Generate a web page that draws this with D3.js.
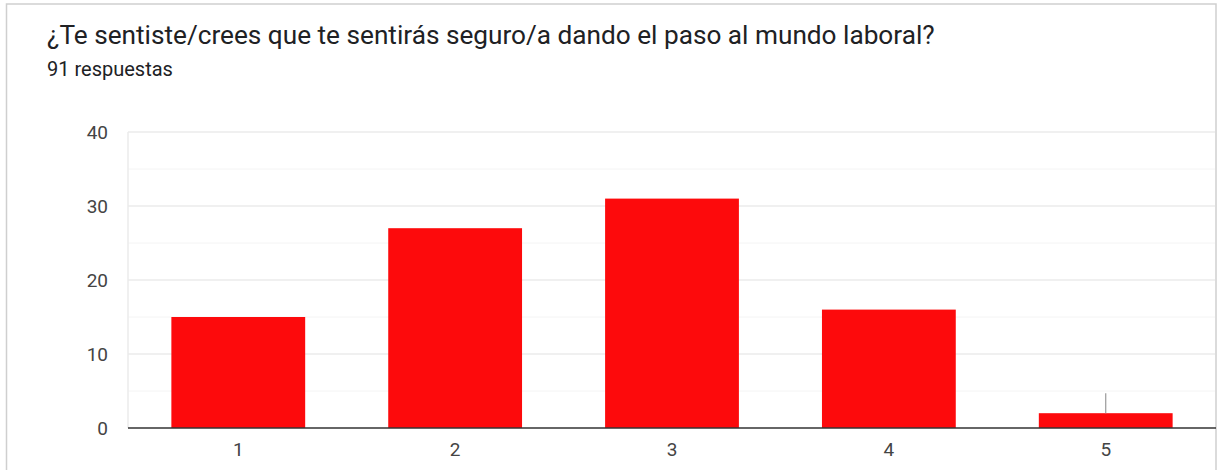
<!DOCTYPE html>
<html>
<head>
<meta charset="utf-8">
<script src="https://cdn.jsdelivr.net/npm/d3@7"></script>
<style>
  html, body { margin: 0; padding: 0; background: #fff; }
  svg { display: block; font-family: Roboto, Arial, sans-serif; }
</style>
</head>
<body>
<svg id="chart" width="1217" height="470"></svg>
<script>
// Survey answers: rating 1–5 and number of responses
const categories = ["1", "2", "3", "4", "5"];
const counts = [15, 27, 31, 16, 2];
const yTicks = [0, 10, 20, 30, 40];
const yMinorTicks = [5, 15, 25, 35];
const title = "¿Te sentiste/crees que te sentirás seguro/a dando el paso al mundo laboral?";
const subtitle = "91 respuestas";

const svg = d3.select("#chart");
const W = 1217, H = 470;

// card frame
svg.append("rect")
  .attr("x", 6.5).attr("y", 4).attr("width", W - 7.5).attr("height", H + 10)
  .attr("fill", "#fff").attr("stroke", "#cfcfcf").attr("stroke-width", 1.5);

svg.append("text")
  .attr("x", 47).attr("y", 44)
  .attr("font-size", 26.2).attr("fill", "#202124")
  .text(title);

svg.append("text")
  .attr("x", 47).attr("y", 76)
  .attr("font-size", 20).attr("fill", "#202124")
  .text(subtitle);

const plot = { left: 128, right: 1216, top: 132, bottom: 428 };

const x = d3.scaleBand()
  .domain(categories)
  .range([plot.left, plot.right])
  .paddingInner(0.383)
  .paddingOuter(0.2);

const y = d3.scaleLinear()
  .domain([0, 40])
  .range([plot.bottom, plot.top]);

// minor gridlines
svg.append("g")
  .selectAll("line")
  .data(yMinorTicks)
  .join("line")
  .attr("x1", plot.left).attr("x2", plot.right - 1)
  .attr("y1", d => y(d)).attr("y2", d => y(d))
  .attr("stroke", "#f4f4f4").attr("stroke-width", 1);

// major gridlines
svg.append("g")
  .selectAll("line")
  .data(yTicks.filter(d => d > 0))
  .join("line")
  .attr("x1", plot.left).attr("x2", plot.right - 1)
  .attr("y1", d => y(d)).attr("y2", d => y(d))
  .attr("stroke", "#ebebeb").attr("stroke-width", 1.5);

// left frame line of the plot area
svg.append("line")
  .attr("x1", plot.left).attr("x2", plot.left)
  .attr("y1", plot.top).attr("y2", plot.bottom)
  .attr("stroke", "#ebebeb").attr("stroke-width", 1.5);

// y axis labels
const yAxis = d3.axisLeft(y).tickValues(yTicks).tickSize(0).tickPadding(20);
svg.append("g")
  .attr("transform", `translate(${plot.left},0)`)
  .call(yAxis)
  .call(g => g.select(".domain").remove())
  .call(g => g.selectAll("text")
    .attr("font-size", 19).attr("fill", "#444").attr("font-family", "Roboto, Arial, sans-serif"));

// bars
svg.append("g")
  .selectAll("rect")
  .data(categories.map((c, i) => ({ c, v: counts[i] })))
  .join("rect")
  .attr("x", d => x(d.c))
  .attr("width", x.bandwidth())
  .attr("y", d => y(d.v))
  .attr("height", d => y(0) - y(d.v))
  .attr("fill", "#fd0a0c");

// small hover marker above the last bar
const last = categories.length - 1;
svg.append("line")
  .attr("x1", x(categories[last]) + x.bandwidth() / 2)
  .attr("x2", x(categories[last]) + x.bandwidth() / 2)
  .attr("y1", y(counts[last] + 2.7))
  .attr("y2", y(counts[last]))
  .attr("stroke", "#9a9a9a").attr("stroke-width", 1.2);

// baseline + x labels
const xAxis = d3.axisBottom(x).tickSize(0).tickPadding(15);
svg.append("g")
  .attr("transform", `translate(0,${plot.bottom})`)
  .call(xAxis)
  .call(g => g.select(".domain")
    .attr("d", `M${plot.left},0H${plot.right}`)
    .attr("stroke", "#333").attr("stroke-width", 1.5))
  .call(g => g.selectAll("text")
    .attr("font-size", 19).attr("fill", "#444").attr("font-family", "Roboto, Arial, sans-serif"));
</script>
</body>
</html>
